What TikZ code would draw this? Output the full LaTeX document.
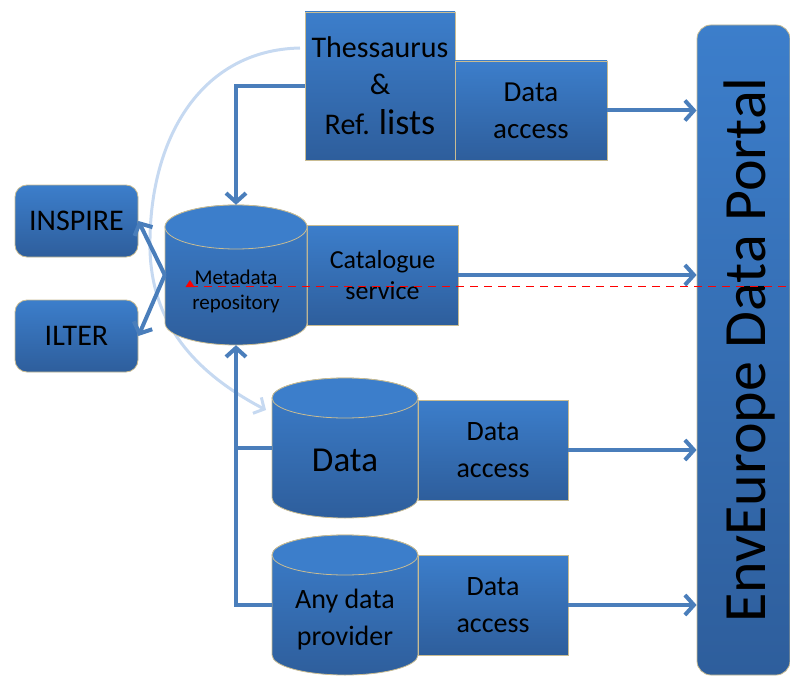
\documentclass[tikz,border=0pt]{standalone}
\usepackage{fontspec}
\setmainfont{Carlito}
\usetikzlibrary{arrows.meta}
\definecolor{btop}{HTML}{3C7ECB}
\definecolor{bbot}{HTML}{2E5E9C}
\definecolor{bedge}{HTML}{C9BC92}
\definecolor{arr}{HTML}{4A7EBB}
\definecolor{lightarr}{HTML}{C6D9F1}
\newcommand\drawcyl[5]{% x1, x2, top, bottom, ry
  \pgfmathsetmacro\cylcx{(#1+#2)/2}%
  \pgfmathsetmacro\cylrx{(#2-#1)/2}%
  \path[top color=btop, bottom color=bbot, draw=bedge, line width=0.8pt]
    (#1,#3+#5) -- (#1,#4-#5)
    arc[start angle=180, end angle=360, x radius=\cylrx pt, y radius=#5 pt]
    -- (#2,#3+#5)
    arc[start angle=0, end angle=180, x radius=\cylrx pt, y radius=#5 pt] -- cycle;
  \path[fill=btop, draw=bedge, line width=0.8pt] (\cylcx,#3+#5) ellipse[x radius=\cylrx pt, y radius=#5 pt];
}
\tikzset{
  bluebox/.style={rectangle, draw=bedge, line width=0.8pt, top color=btop, bottom color=bbot,
    inner sep=0pt, align=center, text=black},
  roundbox/.style={bluebox, rounded corners=12pt},
  ghost/.style={rectangle, inner sep=0pt, align=center, text=black},
  conn/.style={draw=arr, line width=4pt, -{Straight Barb[length=9pt,width=20pt]}},
  lightconn/.style={draw=lightarr, line width=3pt, -{Straight Barb[length=8pt,width=18pt]}},
  reddash/.style={draw=red, line width=1pt, dash pattern=on 8pt off 6pt},
  fa/.style={font=\fontsize{29}{37}\selectfont},
  fb/.style={font=\fontsize{28}{37}\selectfont},
}
\begin{document}
\begin{tikzpicture}[x=1pt, y=-1pt]
\useasboundingbox (0,0) rectangle (790,682);

% light curved connector
\coordinate (lcstart) at (300,48);
\coordinate (lcend) at (266,410);
\draw[lightconn] (lcstart) .. controls (200,50) and (148,140) .. (150,250)
  .. controls (152,320) and (190,370) .. (lcend);

% boxes
\node[bluebox, minimum width=150pt, minimum height=148pt, font=\fontsize{30}{37}\selectfont] (thes) at (380,86)
  {Thessaurus\\\&\\[3pt]Ref. {\fontsize{36}{40}\selectfont lists}};
\node[bluebox, fa, minimum width=152pt, minimum height=99pt] (da1) at (531,110.5) {Data\\access};
\node[bluebox, rounded corners=14pt, minimum width=93pt, minimum height=650pt] (portal) at (743.5,350) {};
\node[ghost, rotate=90, font=\fontsize{60}{70}\selectfont] (portaltxt) at (749,350) {EnvEurope Data Portal};

\node[roundbox, font=\fontsize{30}{36}\selectfont, minimum width=123pt, minimum height=72pt] (inspire) at (76.5,221) {INSPIRE};
\node[roundbox, font=\fontsize{30}{36}\selectfont, minimum width=123pt, minimum height=72pt] (ilter) at (76.5,336) {ILTER};

\node[bluebox, font=\fontsize{26}{31}\selectfont, minimum width=151pt, minimum height=100pt] (cat) at (382.5,275) {Catalogue\\service};

\drawcyl{165}{307}{205}{345}{22}
\node[ghost, minimum width=142pt, minimum height=140pt] (meta) at (236,275) {};
\node[ghost, font=\fontsize{21}{25}\selectfont] (metatxt) at (236,291) {Metadata\\repository};

\node[bluebox, fb, minimum width=150pt, minimum height=100pt] (da2) at (493,450) {Data\\access};
\drawcyl{272}{418}{378}{518}{20}
\node[ghost, minimum width=146pt, minimum height=140pt] (data) at (345,448) {};
\node[ghost, font=\fontsize{35}{40}\selectfont] (datatxt) at (345,460) {Data};

\node[bluebox, fb, minimum width=150pt, minimum height=100pt] (da3) at (493,605) {Data\\access};
\drawcyl{272}{418}{535}{675}{20}
\node[ghost, minimum width=146pt, minimum height=140pt] (any) at (345,605) {};
\node[ghost, font=\fontsize{28}{37}\selectfont] (anytxt) at (345,620) {Any data\\provider};

% connectors
\draw[conn] (thes.west) -| (meta.north);
\draw[conn] (meta.west) -- (inspire.east);
\draw[conn] (meta.west) -- (ilter.east);
\draw[conn] (any.west) -| (meta.south);
\draw[draw=arr, line width=4pt] (data.west) -- (data.west -| meta.south);
\draw[conn] (da1.east) -- (da1.east -| portal.west);
\draw[conn] (cat.east) -- (cat.east -| portal.west);
\draw[conn] (da2.east) -- (da2.east -| portal.west);
\draw[conn] (da3.east) -- (da3.east -| portal.west);

% red dashed marker line
\coordinate (redstart) at (190,286);
\coordinate (redend) at (790,286);
\draw[reddash] (redstart) -- (redend);
\fill[red] (185.5,287) -- (194.5,287) -- (190,280) -- cycle;
\end{tikzpicture}
\end{document}
